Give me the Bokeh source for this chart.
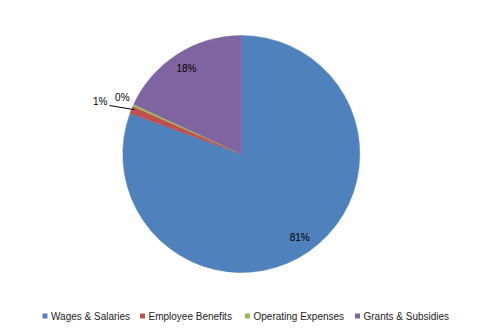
import math
from bokeh.plotting import figure
from bokeh.models import Range1d
from bokeh.core.properties import value
from bokeh.embed import file_html
from bokeh.resources import INLINE

# ---- data ----
categories = ["Wages & Salaries", "Employee Benefits", "Operating Expenses", "Grants & Subsidies"]
shares = [80.6, 1.0, 0.3, 18.1]
labels = ["81%", "1%", "0%", "18%"]
colors = ["#4F81BD", "#C0504D", "#9BBB59", "#8064A2"]

# ---- layout ----
W, H = 482, 335
CX, CY_PX, R = 240.8, 153.5, 118.5
FONT = "Liberation Sans"

def Y(ypx):
    return H - ypx

p = figure(width=W, height=H, output_backend="svg", toolbar_location=None,
           x_range=Range1d(0, W), y_range=Range1d(0, H), min_border=0)
p.axis.visible = False
p.grid.visible = False
p.outline_line_color = None
p.background_fill_color = "white"

total = sum(shares)
cum = 0.0
starts, ends, mids = [], [], []
for s in shares:
    a0 = math.pi / 2 - 2 * math.pi * cum / total
    cum += s
    a1 = math.pi / 2 - 2 * math.pi * cum / total
    starts.append(a0)
    ends.append(a1)
    mids.append((a0 + a1) / 2)

p.wedge(x=[CX] * len(shares), y=[Y(CY_PX)] * len(shares), radius=R,
        start_angle=starts, end_angle=ends, direction="clock",
        fill_color=colors, line_color=colors, line_width=0.5)

# inside labels for big slices
lx, ly, lt = [], [], []
for i, s in enumerate(shares):
    if s >= 5:
        rr = 0.86 * R
        lx.append(CX + rr * math.cos(mids[i]))
        ly.append(Y(CY_PX) + rr * math.sin(mids[i]))
        lt.append(labels[i])
p.text(x=lx, y=ly, text=lt, text_font=value(FONT), text_font_size="10px",
       text_color="black", text_align="center", text_baseline="middle")

# small slice labels outside
# 0% label
i0 = 2
p.text(x=[CX + 1.12 * R * math.cos(mids[i0]) + 2], y=[Y(CY_PX) + 1.12 * R * math.sin(mids[i0]) + 2],
       text=[labels[i0]], text_font=value(FONT), text_font_size="10px",
       text_color="black", text_align="center", text_baseline="middle")
# 1% label with leader line
i1 = 1
ex = CX + R * math.cos(mids[i1])
ey = Y(CY_PX) + R * math.sin(mids[i1])
p.line(x=[109, ex + 3], y=[Y(105), ey], line_color="black", line_width=1)
p.text(x=[107], y=[Y(101)], text=[labels[i1]], text_font=value(FONT), text_font_size="10px",
       text_color="black", text_align="right", text_baseline="middle")

# legend
leg_sq_x = [44.5, 142, 247, 357]
leg_y = 315.5
p.scatter(x=leg_sq_x, y=[Y(leg_y)] * 4, marker="square", size=5,
          fill_color=colors, line_color=None)
p.text(x=[x + 6 for x in leg_sq_x], y=[Y(leg_y)] * 4, text=categories,
       text_font=value(FONT), text_font_size="10px", text_color="#222222",
       text_align="left", text_baseline="middle")

open("out.html", "w").write(file_html(p, INLINE))
